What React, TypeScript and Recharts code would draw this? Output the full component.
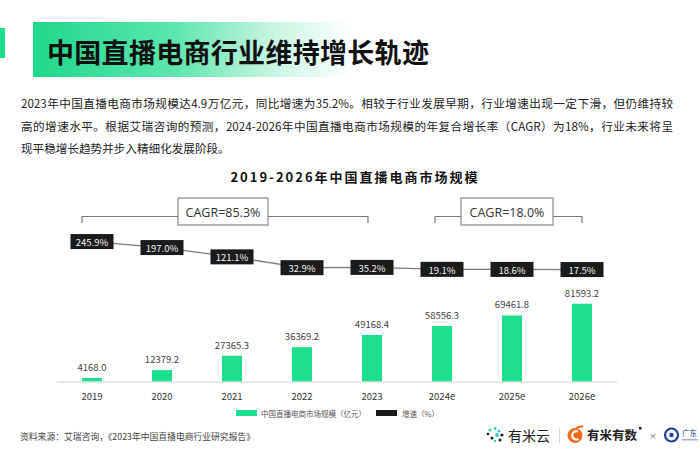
import React from 'react';
import { ComposedChart, Bar, Line, XAxis, YAxis, LabelList } from 'recharts';

const years = ['2019', '2020', '2021', '2022', '2023', '2024e', '2025e', '2026e'];
const marketSize = [4168.0, 12379.2, 27365.3, 36369.2, 49168.4, 58556.3, 69461.8, 81593.2];
const growthRate = [245.9, 197.0, 121.1, 32.9, 35.2, 19.1, 18.6, 17.5];
const cagrLabels = ['CAGR=85.3%', 'CAGR=18.0%'];
const seriesNames = ['中国直播电商市场规模（亿元）', '增速（%）'];
const titleText = '中国直播电商行业维持增长轨迹';
const chartTitle = '2019-2026年中国直播电商市场规模';
const paragraphLines = [
  '2023年中国直播电商市场规模达4.9万亿元，同比增速为35.2%。相较于行业发展早期，行业增速出现一定下滑，但仍维持较',
  '高的增速水平。根据艾瑞咨询的预测，2024-2026年中国直播电商市场规模的年复合增长率（CAGR）为18%，行业未来将呈',
  '现平稳增长趋势并步入精细化发展阶段。',
];
const sourceText = '资料来源：艾瑞咨询，《2023年中国直播电商行业研究报告》';

const data = years.map((y, i) => ({ year: y, size: marketSize[i], rate: growthRate[i] }));

const GREEN = '#1de08e';
const FONT = '"Noto Sans CJK SC", "Noto Sans", sans-serif';

const RateLabel = (props: any) => {
  const { x, y, value } = props;
  if (x == null || y == null) return null;
  return (
    <g>
      <rect x={x - 21.5} y={y - 7.5} width={43} height={15} fill="#1b1b1b" />
      <text x={x} y={y + 0.5} textAnchor="middle" dominantBaseline="central" fontSize={9.5} fill="#f2f2f2" fontFamily={FONT}>
        {Number(value).toFixed(1)}%
      </text>
    </g>
  );
};

const Bracket = ({ x1, x2, bx1, bx2, label }: any) => {
  const ly = 216.5;
  return (
    <g>
      <path d={`M${x1},223 L${x1},${ly} L${bx1},${ly}`} fill="none" stroke="#7a7a7a" strokeWidth={1.2} />
      <path d={`M${bx2},${ly} L${x2},${ly} L${x2},223`} fill="none" stroke="#7a7a7a" strokeWidth={1.2} />
      <rect x={bx1} y={198} width={bx2 - bx1} height={27} fill="#fff" stroke="#8a8a8a" strokeWidth={1.2} />
      <text x={(bx1 + bx2) / 2} y={212} textAnchor="middle" dominantBaseline="central" fontSize={12.5} fill="#333" fontFamily='"Open Sans", "Noto Sans", sans-serif'>
        {label}
      </text>
    </g>
  );
};

export default function App() {
  return (
    <div style={{ position: 'absolute', left: 0, top: 0, width: 700, height: 470, background: '#fff', overflow: 'hidden', fontFamily: FONT }}>
      {/* header */}
      <div style={{ position: 'absolute', left: 0, top: 28, width: 5, height: 30, background: GREEN }} />
      <div
        style={{
          position: 'absolute', left: 33, top: 22, width: 320, height: 55,
          background: 'linear-gradient(90deg, #1ed88b 0%, #5fe6b0 45%, #c8f5e2 75%, rgba(255,255,255,0) 100%)',
        }}
      />
      <div style={{ position: 'absolute', left: 47, top: 34, fontSize: 27, letterSpacing: 0.3, fontWeight: 700, color: '#111', lineHeight: '36px', whiteSpace: 'nowrap' }}>
        {titleText}
      </div>
      {/* paragraph */}
      {paragraphLines.map((t, i) => (
        <div
          key={i}
          style={{
            position: 'absolute', left: 21, top: 92 + i * 22.5, width: i < 2 ? 652 : undefined,
            fontSize: 11.6, lineHeight: '22px', color: '#222', whiteSpace: 'nowrap',
            textAlign: i < 2 ? 'justify' : 'left', textAlignLast: i < 2 ? 'justify' : 'left',
          } as any}
        >
          {t}
        </div>
      ))}
      {/* chart title */}
      <div style={{ position: 'absolute', left: 0, top: 168, width: 710, textAlign: 'center', fontSize: 13, fontWeight: 700, letterSpacing: 2, color: '#111', lineHeight: '18px' }}>
        {chartTitle}
      </div>

      <div style={{ position: 'absolute', left: 0, top: 0 }}>
        <ComposedChart width={700} height={470} data={data} margin={{ top: 200, right: 83, bottom: 58, left: 57 }}>
          <XAxis
            dataKey="year"
            axisLine={{ stroke: '#e2e2e2', strokeWidth: 1.5 }}
            tickLine={false}
            tickMargin={5}
            tick={{ fontSize: 9.5, fill: '#333', fontFamily: FONT }}
            interval={0}
          />
          <YAxis yAxisId="left" hide domain={[0, 190000]} />
          <YAxis yAxisId="right" orientation="right" hide domain={[-900, 585]} />
          <Bar yAxisId="left" dataKey="size" fill={GREEN} barSize={20} isAnimationActive={false}>
            <LabelList
              dataKey="size"
              position="top"
              offset={7}
              formatter={(v: any) => Number(v).toFixed(1)}
              style={{ fontSize: 9.5, fill: '#444', fontFamily: FONT }}
            />
          </Bar>
          <Line yAxisId="right" dataKey="rate" stroke="#7d7d7d" strokeWidth={1.3} dot={false} type="linear" isAnimationActive={false}>
            <LabelList dataKey="rate" content={<RateLabel />} />
          </Line>
        </ComposedChart>
      </div>

      {/* CAGR annotations */}
      <svg style={{ position: 'absolute', left: 0, top: 0, pointerEvents: 'none' }} width={700} height={470}>
        <Bracket x1={82} x2={368} bx1={178} bx2={268} label={cagrLabels[0]} />
        <Bracket x1={435} x2={582} bx1={461} bx2={553} label={cagrLabels[1]} />
      </svg>

      {/* legend */}
      <div style={{ position: 'absolute', left: 236, top: 405, height: 16, display: 'flex', alignItems: 'center', fontSize: 7.5, color: '#555', whiteSpace: 'nowrap' }}>
        <span style={{ display: 'inline-block', width: 21, height: 6, background: GREEN, marginRight: 4 }} />
        <span style={{ marginRight: 10 }}>{seriesNames[0]}</span>
        <span style={{ display: 'inline-block', width: 21, height: 6, background: '#1b1b1b', marginRight: 5 }} />
        <span>{seriesNames[1]}</span>
      </div>

      {/* source */}
      <div style={{ position: 'absolute', left: 20, top: 430, fontSize: 8.8, color: '#444', whiteSpace: 'nowrap', lineHeight: '14px' }}>
        {sourceText}
      </div>

      {/* logos */}
      <svg style={{ position: 'absolute', left: 0, top: 0 }} width={700} height={470}>
        <g>
          <circle cx={490} cy={430} r={1.6} fill="#2fd3a8" />
          <circle cx={495} cy={428.5} r={1.4} fill="#2fd3a8" />
          <circle cx={499} cy={431} r={1.5} fill="#38c9d6" />
          <circle cx={502} cy={435} r={1.6} fill="#222" />
          <circle cx={497} cy={435} r={1.9} fill="#38c9d6" />
          <circle cx={492} cy={438} r={1.6} fill="#222" />
          <circle cx={488} cy={434} r={1.3} fill="#222" />
          <circle cx={500} cy={440} r={1.5} fill="#222" />
          <circle cx={495} cy={441} r={1.2} fill="#2fd3a8" />
        </g>
        <text x={508} y={440.5} fontSize={14} fill="#222" fontFamily={FONT}>有米云</text>
        <line x1={559.5} y1={428} x2={559.5} y2={443} stroke="#d6d6d6" strokeWidth={1} />
        <circle cx={575} cy={435.5} r={7.5} fill="#f26a1b" />
        <path d="M578,431.5 A4.2,4.2 0 1,0 578.5,439" fill="none" stroke="#fff" strokeWidth={2.2} />
        <path d="M576,428 L583,426" stroke="#f26a1b" strokeWidth={2} />
        <text x={587} y={440} fontSize={12.5} fontWeight={700} fill="#222" fontFamily={FONT}>有米有数</text>
        <rect x={639} y={427} width={2.5} height={2.5} fill="#222" />
        <text x={649} y={439} fontSize={8} fill="#666" fontFamily={FONT}>×</text>
        <circle cx={671.5} cy={435} r={6.5} fill="none" stroke="#1e3f9a" strokeWidth={2.2} />
        <circle cx={671.5} cy={435} r={2.2} fill="#1e3f9a" />
        <text x={682} y={436} fontSize={7.5} fill="#1e3f9a" fontFamily={FONT}>广东</text>
        <rect x={682} y={439} width={16} height={1.5} fill="#9fb0d6" />
      </svg>
    </div>
  );
}
